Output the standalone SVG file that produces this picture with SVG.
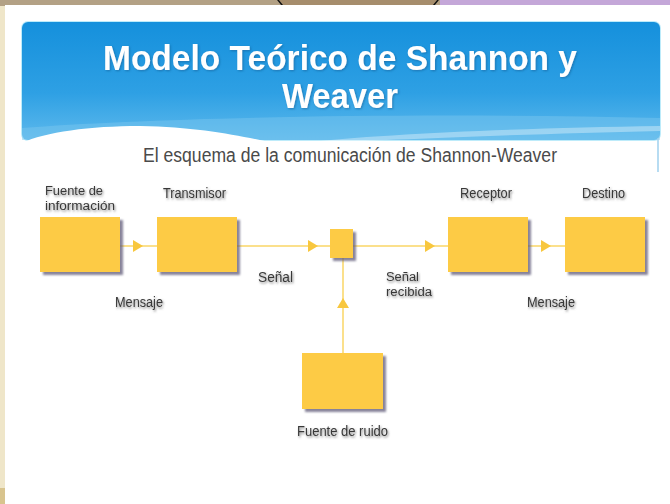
<svg xmlns="http://www.w3.org/2000/svg" width="670" height="504" viewBox="0 0 670 504">
  <defs>
    <linearGradient id="hdr" x1="0" y1="0" x2="0" y2="1">
      <stop offset="0" stop-color="#1590DC"/>
      <stop offset="0.6" stop-color="#2EA0E4"/>
      <stop offset="1" stop-color="#5DB9EC"/>
    </linearGradient>
    <filter id="shadowBlur" x="-20%" y="-20%" width="140%" height="140%">
      <feGaussianBlur stdDeviation="1.2"/>
    </filter>
    <filter id="txtShadow" x="-10%" y="-30%" width="120%" height="160%">
      <feDropShadow dx="1" dy="1.5" stdDeviation="1" flood-color="#666" flood-opacity="0.8"/>
    </filter>
    <filter id="titleShadow" x="-5%" y="-20%" width="110%" height="140%">
      <feDropShadow dx="1" dy="1" stdDeviation="0.8" flood-color="#0a4f80" flood-opacity="0.5"/>
    </filter>
    <marker id="arr" viewBox="0 0 10 12" refX="10" refY="6" markerWidth="10" markerHeight="12" markerUnits="userSpaceOnUse" orient="auto">
      <path d="M0,0 L10,6 L0,12 Z" fill="#F8C73E"/>
    </marker>
    <style>
      .box { fill: #FDCB45; }
      .shd { fill: #5f5a78; opacity: 0.75; filter: url(#shadowBlur); }
      .lbl { font-family: "Liberation Sans", Arial, sans-serif; font-size: 14px; fill: #383838; filter: url(#txtShadow); }
      .sm { font-size: 12.5px; }
      .conn { fill: none; stroke: #FBE08C; stroke-width: 2; marker-mid: url(#arr); }
      .title { font-family: "Liberation Sans", Arial, sans-serif; font-weight: bold; font-size: 35px; fill: #ffffff; text-anchor: middle; filter: url(#titleShadow); }
    </style>
  </defs>

  <!-- outer background -->
  <rect x="0" y="0" width="670" height="504" fill="#EFE6C9"/>
  <rect x="0" y="0" width="445" height="6" fill="#B3A185"/>
  <rect x="440" y="0" width="230" height="6" fill="#C4A7D8"/>
  <circle cx="358" cy="-60" r="100" fill="#A68D6C" stroke="#111" stroke-width="1.5"/>
  <rect x="0" y="488" width="5" height="16" fill="#D8C48E"/>

  <!-- slide -->
  <rect x="5" y="5" width="665" height="499" fill="#FFFFFF"/>

  <!-- header -->
  <g id="header">
    <rect x="21" y="21" width="640" height="120" rx="7" fill="#BDEBFA"/>
    <rect x="22" y="22" width="638" height="118" rx="6" fill="url(#hdr)"/>
    <path d="M22,128 C150,118 400,112 660,118 L660,140 L22,140 Z" fill="#7CC8F0" opacity="0.45"/>
    <path d="M22,143 C45,132 90,126 140,126 C200,127 240,136 275,143 Z" fill="#FFFFFF"/>
    <path d="M300,143 C380,134 520,128 660,126 L660,131 C530,134 400,139 330,143 Z" fill="#FFFFFF" opacity="0.35"/>
    <line x1="658" y1="138" x2="658" y2="172" stroke="#9FD0EE" stroke-width="1.5"/>
    <text class="title" x="340" y="70" textLength="474" lengthAdjust="spacingAndGlyphs">Modelo Teórico de Shannon y</text>
    <text class="title" x="340" y="108" textLength="116" lengthAdjust="spacingAndGlyphs">Weaver</text>
  </g>

  <text id="subtitle" x="143" y="162" textLength="414" lengthAdjust="spacingAndGlyphs" font-family="Liberation Sans, Arial, sans-serif" font-size="19.5" fill="#4a4a4a">El esquema de la comunicación de Shannon-Weaver</text>

  <!-- connectors -->
  <g id="connectors">
    <path class="conn" d="M120,246 L143,246 L157,246"/>
    <path class="conn" d="M237,246 L318,246 L330,246"/>
    <path class="conn" d="M353,246 L435,246 L448,246"/>
    <path class="conn" d="M528,246 L551,246 L565,246"/>
    <path class="conn" d="M343,353 L343,298 L343,258"/>
  </g>

  <!-- nodes -->
  <g id="fuente-info">
    <rect class="shd" x="43" y="220" width="80" height="55"/>
    <rect class="box" x="40" y="217" width="80" height="55"/>
    <text class="lbl sm" x="45" y="195" textLength="58" lengthAdjust="spacingAndGlyphs">Fuente de</text>
    <text class="lbl sm" x="45" y="210" textLength="70" lengthAdjust="spacingAndGlyphs">información</text>
  </g>
  <g id="transmisor">
    <rect class="shd" x="160" y="220" width="80" height="55"/>
    <rect class="box" x="157" y="217" width="80" height="55"/>
    <text class="lbl" x="163" y="198" textLength="63" lengthAdjust="spacingAndGlyphs">Transmisor</text>
  </g>
  <g id="canal">
    <rect class="shd" x="333" y="232" width="23" height="29"/>
    <rect class="box" x="330" y="229" width="23" height="29"/>
  </g>
  <g id="receptor">
    <rect class="shd" x="451" y="220" width="80" height="55"/>
    <rect class="box" x="448" y="217" width="80" height="55"/>
    <text class="lbl" x="460" y="198" textLength="52" lengthAdjust="spacingAndGlyphs">Receptor</text>
  </g>
  <g id="destino">
    <rect class="shd" x="568" y="220" width="80" height="55"/>
    <rect class="box" x="565" y="217" width="80" height="55"/>
    <text class="lbl" x="582" y="198" textLength="43" lengthAdjust="spacingAndGlyphs">Destino</text>
  </g>
  <g id="fuente-ruido">
    <rect class="shd" x="305" y="356" width="81" height="56"/>
    <rect class="box" x="302" y="353" width="81" height="56"/>
    <text class="lbl" x="297" y="436" textLength="91" lengthAdjust="spacingAndGlyphs">Fuente de ruido</text>
  </g>

  <!-- connector labels -->
  <g id="labels">
    <text class="lbl" x="258" y="282" textLength="35" lengthAdjust="spacingAndGlyphs">Señal</text>
    <text class="lbl" x="115" y="307" textLength="48" lengthAdjust="spacingAndGlyphs">Mensaje</text>
    <text class="lbl sm" x="386" y="281" textLength="33" lengthAdjust="spacingAndGlyphs">Señal</text>
    <text class="lbl sm" x="386" y="296" textLength="46" lengthAdjust="spacingAndGlyphs">recibida</text>
    <text class="lbl" x="527" y="307" textLength="48" lengthAdjust="spacingAndGlyphs">Mensaje</text>
  </g>
</svg>
